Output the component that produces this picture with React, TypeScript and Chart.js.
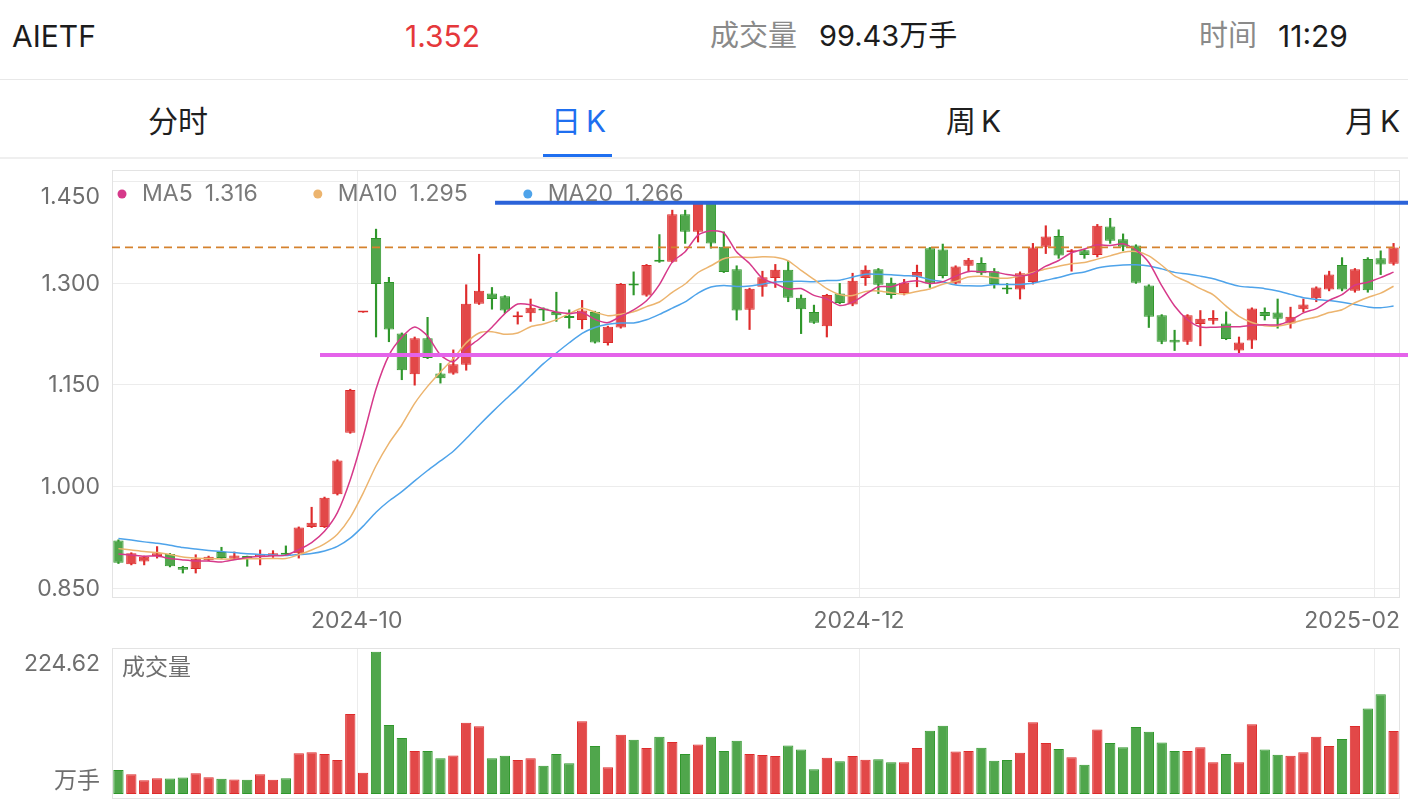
import React, { useEffect, useRef } from "react";
import { Chart, registerables } from "chart.js";

Chart.register(...registerables);

// ---------------- data ----------------
const dates = [
  "2024-09-02","2024-09-03","2024-09-04","2024-09-05","2024-09-06","2024-09-09","2024-09-10","2024-09-11","2024-09-12","2024-09-13",
  "2024-09-18","2024-09-19","2024-09-20","2024-09-23","2024-09-24","2024-09-25","2024-09-26","2024-09-27","2024-09-30",
  "2024-10-08","2024-10-09","2024-10-10","2024-10-11","2024-10-14","2024-10-15","2024-10-16","2024-10-17","2024-10-18","2024-10-21",
  "2024-10-22","2024-10-23","2024-10-24","2024-10-25","2024-10-28","2024-10-29","2024-10-30","2024-10-31",
  "2024-11-01","2024-11-04","2024-11-05","2024-11-06","2024-11-07","2024-11-08","2024-11-11","2024-11-12","2024-11-13","2024-11-14",
  "2024-11-15","2024-11-18","2024-11-19","2024-11-20","2024-11-21","2024-11-22","2024-11-25","2024-11-26","2024-11-27","2024-11-28","2024-11-29",
  "2024-12-02","2024-12-03","2024-12-04","2024-12-05","2024-12-06","2024-12-09","2024-12-10","2024-12-11","2024-12-12","2024-12-13",
  "2024-12-16","2024-12-17","2024-12-18","2024-12-19","2024-12-20","2024-12-23","2024-12-24","2024-12-25","2024-12-26","2024-12-27",
  "2024-12-30","2024-12-31",
  "2025-01-02","2025-01-03","2025-01-06","2025-01-07","2025-01-08","2025-01-09","2025-01-10","2025-01-13","2025-01-14","2025-01-15",
  "2025-01-16","2025-01-17","2025-01-20","2025-01-21","2025-01-22","2025-01-23","2025-01-24","2025-01-27",
  "2025-02-05","2025-02-06",
];

const opens = [
  0.920,0.885,0.889,0.897,0.900,0.881,0.878,0.891,0.903,0.893,
  0.896,0.896,0.897,0.902,0.901,0.940,0.940,0.988,1.079,1.256,
  1.366,1.301,1.225,1.165,1.218,1.166,1.166,1.179,1.269,1.284,
  1.280,1.249,1.255,1.262,1.257,1.251,1.245,1.257,1.211,1.234,
  1.298,1.281,1.334,1.331,1.401,1.375,1.419,1.353,1.320,1.260,
  1.294,1.307,1.319,1.278,1.257,1.236,1.284,1.268,1.307,1.320,
  1.300,1.285,1.309,1.351,1.349,1.299,1.325,1.329,1.317,1.293,
  1.290,1.301,1.353,1.369,1.345,1.348,1.341,1.383,1.364,1.355,
  1.296,1.252,1.216,1.213,1.239,1.244,1.240,1.200,1.215,1.257,
  1.256,1.240,1.261,1.277,1.290,1.326,1.288,1.335,1.336,1.328,
];
const highs = [
  0.921,0.902,0.897,0.911,0.901,0.882,0.899,0.897,0.910,0.903,
  0.897,0.906,0.905,0.912,0.940,0.969,0.984,1.039,1.143,1.256,
  1.379,1.308,1.226,1.220,1.249,1.181,1.201,1.297,1.342,1.293,
  1.281,1.257,1.276,1.263,1.286,1.260,1.274,1.258,1.236,1.299,
  1.316,1.327,1.371,1.407,1.407,1.419,1.419,1.375,1.325,1.292,
  1.317,1.327,1.332,1.282,1.267,1.283,1.299,1.314,1.325,1.321,
  1.307,1.305,1.326,1.352,1.357,1.325,1.336,1.337,1.321,1.299,
  1.316,1.358,1.384,1.378,1.349,1.349,1.386,1.395,1.372,1.356,
  1.297,1.253,1.230,1.253,1.259,1.259,1.257,1.220,1.263,1.263,
  1.276,1.264,1.276,1.294,1.317,1.337,1.321,1.337,1.347,1.358,
];
const lows = [
  0.886,0.884,0.884,0.894,0.881,0.872,0.872,0.890,0.893,0.892,
  0.882,0.884,0.895,0.898,0.894,0.939,0.939,0.987,1.078,1.256,
  1.220,1.213,1.157,1.149,1.188,1.152,1.165,1.171,1.268,1.261,
  1.255,1.239,1.243,1.244,1.243,1.233,1.232,1.211,1.208,1.233,
  1.282,1.280,1.330,1.330,1.358,1.360,1.351,1.315,1.245,1.231,
  1.280,1.293,1.272,1.225,1.240,1.220,1.269,1.266,1.296,1.284,
  1.277,1.282,1.294,1.293,1.307,1.298,1.316,1.312,1.292,1.284,
  1.276,1.298,1.343,1.336,1.317,1.336,1.338,1.358,1.347,1.299,
  1.234,1.210,1.200,1.209,1.207,1.239,1.216,1.192,1.203,1.245,
  1.233,1.233,1.257,1.272,1.288,1.288,1.286,1.286,1.312,1.326,
];
const closes = [
  0.887,0.901,0.896,0.901,0.882,0.877,0.893,0.896,0.894,0.898,
  0.894,0.900,0.901,0.899,0.939,0.946,0.983,1.038,1.142,1.256,
  1.298,1.231,1.171,1.218,1.189,1.159,1.180,1.269,1.288,1.276,
  1.259,1.251,1.263,1.259,1.252,1.248,1.259,1.212,1.235,1.298,
  1.296,1.326,1.331,1.401,1.375,1.418,1.358,1.316,1.259,1.291,
  1.308,1.319,1.278,1.261,1.241,1.282,1.270,1.303,1.319,1.297,
  1.282,1.300,1.316,1.299,1.310,1.324,1.334,1.314,1.298,1.290,
  1.314,1.352,1.368,1.340,1.347,1.341,1.384,1.362,1.353,1.300,
  1.250,1.213,1.212,1.252,1.247,1.248,1.217,1.212,1.262,1.251,
  1.247,1.250,1.268,1.293,1.312,1.290,1.320,1.289,1.327,1.352,
];
// 成交量 (万手)
const volumes = [
  37.7,31.3,21.8,25.0,24.5,26.1,32.9,26.6,24.0,22.9,
  22.4,31.3,22.4,25.0,64.5,66.1,63.0,53.5,126.2,33.5,
  224.62,108.8,88.3,67.7,67.7,56.6,60.9,112.6,106.8,56.6,
  60.4,53.5,56.6,44.6,63.0,48.7,114.7,75.6,42.4,93.6,
  85.7,72.5,90.5,82.0,63.0,78.3,90.5,67.7,84.2,63.0,
  61.4,59.8,76.7,70.4,39.2,57.3,51.9,59.8,54.1,55.0,
  50.3,50.3,72.5,100.0,107.9,67.2,67.7,73.1,52.5,53.5,
  65.2,113.1,80.4,70.9,58.2,46.2,102.0,80.4,74.0,105.7,
  98.4,81.5,67.7,67.7,74.0,50.3,63.0,50.3,110.0,70.4,
  62.0,60.4,66.1,90.5,75.6,86.7,107.3,134.8,157.4,99.43,
];
// closes of the sessions before the first visible day (moving-average warm-up)
const priorCloses = [
  0.950,0.948,0.945,0.940,0.942,0.938,0.935,0.930,0.928,0.924,
  0.922,0.918,0.915,0.912,0.913,0.908,0.905,0.900,0.900,
];
const maPeriods = [5, 10, 20];
const maNames = ["MA5", "MA10", "MA20"];
const priceTicks = [1.45, 1.3, 1.15, 1.0, 0.85];
const priceRange = [0.8352, 1.4662];
const volumeRange = [0, 230.5];
const monthTickLabels = ["2024-10", "2024-12", "2025-02"];
// user-drawn horizontal levels: price and the (fractional) session index where each starts
const levelPrices = [1.4179, 1.1935];
const levelStartIndex = [29.24, 15.65];
const symbol = "AIETF";
const quoteTime = "11:29";

// ---------------- styles ----------------
const FONT = "Inter, 'Noto Sans CJK SC', sans-serif";
const AXIS_FONT = `23px ${FONT}`;
const COL = {
  up: "#e24848",
  upEdge: "#de2b2b",
  down: "#50a64c",
  downEdge: "#2f972b",
  grid: "#ececec",
  frame: "#e3e3e3",
  axisText: "#6e6e6e",
  legendText: "#7a7a7a",
  ma: ["#d6398a", "#ecb46e", "#4ea3ea"],
  last: "#d5822e",
  levels: ["#2b63d9", "#e463ea"],
  blue: "#1f6ff0",
};

// ---------------- derived ----------------
const n = dates.length;
const isUp = closes.map((c, i) => c >= opens[i]);
const allCloses = priorCloses.concat(closes);
const maSeries = maPeriods.map((p) =>
  closes.map((_, i) => {
    const end = priorCloses.length + i;
    let s = 0;
    for (let k = end - p + 1; k <= end; k++) s += allCloses[k];
    return s / p;
  })
);
const monthTickValues = monthTickLabels.map(
  (m) => dates.findIndex((d) => d.startsWith(m)) - 0.5
);
const lastClose = closes[n - 1];
const lastVolume = volumes[n - 1];

function strokeLine(ctx: CanvasRenderingContext2D, x1: number, y1: number, x2: number, y2: number) {
  ctx.beginPath();
  ctx.moveTo(x1, y1);
  ctx.lineTo(x2, y2);
  ctx.stroke();
}

const xScaleOpts = {
  type: "linear" as const,
  display: false,
  offset: false,
  min: -0.5,
  max: n - 0.5,
};

const pricePanelPlugin = {
  id: "pricePanel",
  beforeDatasetsDraw(chart: any) {
    const { ctx, chartArea: a, scales } = chart;
    const x = scales.x;
    const y = scales.y;
    ctx.save();
    ctx.lineWidth = 1;
    ctx.strokeStyle = COL.grid;
    priceTicks.forEach((v) => {
      const py = Math.round(y.getPixelForValue(v)) + 0.5;
      strokeLine(ctx, a.left, py, a.right, py);
    });
    monthTickValues.forEach((v) => {
      const px = Math.round(x.getPixelForValue(v)) + 0.5;
      strokeLine(ctx, px, a.top, px, a.bottom);
    });
    ctx.strokeStyle = COL.frame;
    ctx.strokeRect(a.left + 0.5, a.top + 0.5, a.right - a.left - 1, a.bottom - a.top - 1);
    ctx.restore();
  },
  afterDatasetsDraw(chart: any) {
    const { ctx, chartArea: a, scales } = chart;
    const x = scales.x;
    const y = scales.y;
    ctx.save();
    // last price dashed line
    const ly = y.getPixelForValue(lastClose);
    ctx.setLineDash([8, 5]);
    ctx.strokeStyle = COL.last;
    ctx.lineWidth = 1.8;
    strokeLine(ctx, a.left, ly, a.right, ly);
    ctx.setLineDash([]);
    ctx.lineWidth = 4;
    levelPrices.forEach((p, k) => {
      const py = y.getPixelForValue(p);
      const px = x.getPixelForValue(levelStartIndex[k]);
      ctx.strokeStyle = COL.levels[k];
      strokeLine(ctx, px, py, chart.width, py);
    });
    ctx.restore();
  },
  afterDraw(chart: any) {
    const { ctx, chartArea: a, scales } = chart;
    const x = scales.x;
    const y = scales.y;
    ctx.save();
    ctx.font = AXIS_FONT;
    ctx.textBaseline = "middle";
    ctx.fillStyle = COL.axisText;
    ctx.textAlign = "right";
    priceTicks.forEach((v) => {
      const py = Math.max(y.getPixelForValue(v) + 1, a.top + 27);
      ctx.fillText(v.toFixed(3), a.left - 12, py);
    });
    ctx.textAlign = "center";
    monthTickValues.forEach((v, i) => {
      const label = monthTickLabels[i];
      const w = ctx.measureText(label).width;
      let cx = x.getPixelForValue(v);
      cx = Math.min(Math.max(cx, a.left + w / 2), a.right - w / 2);
      ctx.fillText(label, cx, a.bottom + 23);
    });
    // legend
    let lx = a.left + 10;
    const ly = a.top + 24;
    ctx.textAlign = "left";
    maNames.forEach((name, k) => {
      ctx.fillStyle = COL.ma[k];
      ctx.beginPath();
      ctx.arc(lx, ly, 4.5, 0, Math.PI * 2);
      ctx.fill();
      ctx.fillStyle = COL.legendText;
      ctx.fillText(name, lx + 20, ly);
      const val = maSeries[k][n - 1].toFixed(3);
      const vx = lx + 20 + ctx.measureText(name).width + 12;
      ctx.fillText(val, vx, ly);
      lx = vx + ctx.measureText(val).width + 60;
    });
    ctx.restore();
  },
};

const volumePanelPlugin = {
  id: "volumePanel",
  beforeDatasetsDraw(chart: any) {
    const { ctx, chartArea: a, scales } = chart;
    const x = scales.x;
    ctx.save();
    ctx.lineWidth = 1;
    ctx.strokeStyle = COL.grid;
    monthTickValues.forEach((v) => {
      const px = Math.round(x.getPixelForValue(v)) + 0.5;
      strokeLine(ctx, px, a.top, px, a.bottom);
    });
    ctx.strokeStyle = COL.frame;
    ctx.strokeRect(a.left + 0.5, a.top + 0.5, a.right - a.left - 1, a.bottom - a.top + 4);
    ctx.restore();
  },
  afterDraw(chart: any) {
    const { ctx, chartArea: a } = chart;
    ctx.save();
    ctx.font = AXIS_FONT;
    ctx.textBaseline = "middle";
    ctx.fillStyle = COL.axisText;
    ctx.textAlign = "right";
    ctx.fillText(Math.max(...volumes).toFixed(2), a.left - 12, a.top + 16);
    ctx.fillText("万手", a.left - 12, a.bottom - 13);
    ctx.textAlign = "left";
    ctx.fillText("成交量", a.left + 10, a.top + 20);
    ctx.restore();
  },
};

function PriceChart() {
  const ref = useRef<HTMLCanvasElement>(null);
  useEffect(() => {
    const idx = dates.map((_, i) => i);
    const chart = new Chart(ref.current as HTMLCanvasElement, {
      type: "bar",
      data: {
        datasets: [
          {
            type: "bar",
            label: "wick",
            data: idx.map((i) => ({ x: i, y: [lows[i], highs[i]] })) as any,
            backgroundColor: isUp.map((u) => (u ? COL.upEdge : COL.downEdge)),
            barThickness: 1.5,
            grouped: false,
            order: 3,
          } as any,
          {
            type: "bar",
            label: "body",
            data: idx.map((i) => ({ x: i, y: [opens[i], closes[i]] })) as any,
            backgroundColor: isUp.map((u) => (u ? COL.up : COL.down)),
            borderColor: isUp.map((u) => (u ? COL.upEdge : COL.downEdge)),
            borderWidth: 1,
            borderSkipped: false,
            barPercentage: 0.8,
            categoryPercentage: 1,
            minBarLength: 2,
            grouped: false,
            order: 2,
          } as any,
          ...maSeries.map(
            (s, k) =>
              ({
                type: "line",
                label: maNames[k],
                data: s.map((v, i) => ({ x: i, y: v })),
                borderColor: COL.ma[k],
                borderWidth: 1.5,
                pointRadius: 0,
                tension: 0.25,
                fill: false,
                order: 1,
              } as any)
          ),
        ],
      },
      options: {
        responsive: false,
        animation: false,
        events: [],
        layout: { padding: { left: 112, right: 8, top: 10, bottom: 42 } },
        plugins: { legend: { display: false }, tooltip: { enabled: false } },
        scales: {
          x: xScaleOpts as any,
          y: { type: "linear", display: false, min: priceRange[0], max: priceRange[1] },
        },
      },
      plugins: [pricePanelPlugin],
    });
    return () => chart.destroy();
  }, []);
  return (
    <canvas
      ref={ref}
      width={1408}
      height={480}
      style={{ position: "absolute", left: 0, top: 160, width: 1408, height: 480, display: "block" }}
    />
  );
}

function VolumeChart() {
  const ref = useRef<HTMLCanvasElement>(null);
  useEffect(() => {
    const chart = new Chart(ref.current as HTMLCanvasElement, {
      type: "bar",
      data: {
        datasets: [
          {
            type: "bar",
            label: "成交量",
            data: volumes.map((v, i) => ({ x: i, y: v })) as any,
            backgroundColor: isUp.map((u) => (u ? COL.up : COL.down)),
            borderColor: isUp.map((u) => (u ? COL.upEdge : COL.downEdge)),
            borderWidth: 1,
            borderSkipped: false,
            barPercentage: 0.8,
            categoryPercentage: 1,
            grouped: false,
          } as any,
        ],
      },
      options: {
        responsive: false,
        animation: false,
        events: [],
        layout: { padding: { left: 112, right: 8, top: 8, bottom: 10 } },
        plugins: { legend: { display: false }, tooltip: { enabled: false } },
        scales: {
          x: xScaleOpts as any,
          y: { type: "linear", display: false, min: volumeRange[0], max: volumeRange[1] },
        },
      },
      plugins: [volumePanelPlugin],
    });
    return () => chart.destroy();
  }, []);
  return (
    <canvas
      ref={ref}
      width={1408}
      height={164}
      style={{ position: "absolute", left: 0, top: 640, width: 1408, height: 164, display: "block" }}
    />
  );
}

const abs = (left: number, top: number, extra: React.CSSProperties = {}): React.CSSProperties => ({
  position: "absolute",
  left,
  top,
  lineHeight: "40px",
  whiteSpace: "nowrap",
  ...extra,
});

export default function App() {
  return (
    <div
      style={{
        position: "fixed",
        left: 0,
        top: 0,
        width: 1408,
        height: 804,
        background: "#ffffff",
        overflow: "hidden",
        fontFamily: FONT,
      }}
    >
      {/* quote header */}
      <div style={abs(12, 16, { fontSize: 30, color: "#1c1c1c" })}>{symbol}</div>
      <div style={abs(405, 16, { fontSize: 30, color: "#e5383b" })}>{lastClose.toFixed(3)}</div>
      <div style={abs(710, 16, { fontSize: 29, color: "#8a8a8a" })}>成交量</div>
      <div style={abs(819, 16, { fontSize: 29, color: "#1c1c1c" })}>{lastVolume.toFixed(2)}万手</div>
      <div style={abs(1199, 16, { fontSize: 29, color: "#8a8a8a" })}>时间</div>
      <div style={abs(1278, 16, { fontSize: 30, color: "#1c1c1c" })}>{quoteTime}</div>
      <div style={{ position: "absolute", left: 0, top: 79, width: 1408, height: 1, background: "#e8e8e8" }} />

      {/* period tabs */}
      <div style={abs(148, 101, { fontSize: 30, color: "#1f1f1f" })}>分时</div>
      <div style={abs(551, 101, { fontSize: 30, color: COL.blue })}>
        日<span style={{ marginLeft: 5 }}>K</span>
      </div>
      <div style={abs(946, 101, { fontSize: 30, color: "#1f1f1f" })}>
        周<span style={{ marginLeft: 5 }}>K</span>
      </div>
      <div style={abs(1345, 101, { fontSize: 30, color: "#1f1f1f" })}>
        月<span style={{ marginLeft: 5 }}>K</span>
      </div>
      <div style={{ position: "absolute", left: 543, top: 154, width: 69, height: 4, background: COL.blue }} />
      <div style={{ position: "absolute", left: 0, top: 157, width: 1408, height: 2, background: "#efefef" }} />

      <PriceChart />
      <VolumeChart />
    </div>
  );
}
